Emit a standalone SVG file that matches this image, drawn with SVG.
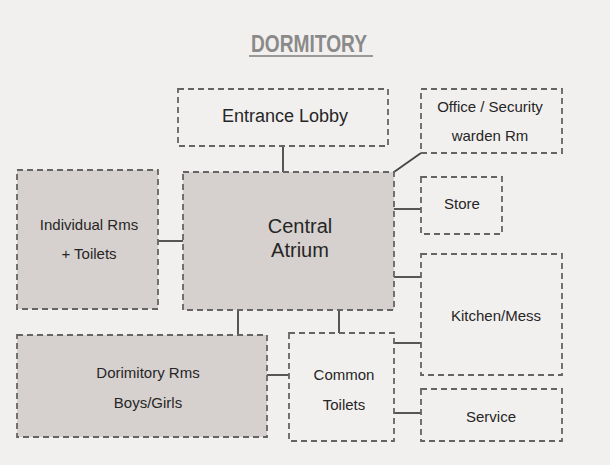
<svg xmlns="http://www.w3.org/2000/svg" width="610" height="465" viewBox="0 0 610 465">
<style>
.box{fill:none;stroke:#646464;stroke-width:1.8;stroke-dasharray:6 4}
.fill{fill:#d6d1ce}
.t{font-family:"Liberation Sans","DejaVu Sans",sans-serif;fill:#262626;text-anchor:middle}
.c{stroke:#444;stroke-width:1.8;fill:none}
</style>
<rect width="610" height="465" fill="#f2f0ef"/>
<g id="title">
<text x="309" y="52" class="t" style="font-weight:bold;font-size:24px;fill:#8a8a8a" textLength="116" lengthAdjust="spacingAndGlyphs">DORMITORY</text>
<line x1="249" y1="56" x2="373" y2="56" stroke="#9a9a9a" stroke-width="2"/>
</g>
<g id="connectors">
<line class="c" x1="283" y1="146" x2="283" y2="172"/>
<line class="c" x1="394" y1="172" x2="421" y2="153"/>
<line class="c" x1="394" y1="209" x2="421" y2="209"/>
<line class="c" x1="394" y1="277" x2="421" y2="277"/>
<line class="c" x1="158" y1="241" x2="183" y2="241"/>
<line class="c" x1="238" y1="310" x2="238" y2="335"/>
<line class="c" x1="339" y1="310" x2="339" y2="333"/>
<line class="c" x1="267" y1="375" x2="289" y2="375"/>
<line class="c" x1="394" y1="343" x2="421" y2="343"/>
<line class="c" x1="394" y1="413" x2="421" y2="413"/>
</g>
<g id="entrance">
<rect class="box" x="178" y="89" width="210" height="57"/>
<text class="t" x="285" y="122" font-size="18">Entrance Lobby</text>
</g>
<g id="office">
<rect class="box" x="421" y="89" width="141" height="64"/>
<text class="t" x="490" y="112" font-size="15">Office / Security</text>
<text class="t" x="490" y="141" font-size="15">warden Rm</text>
</g>
<g id="central">
<rect class="box fill" x="183" y="172" width="211" height="138"/>
<text class="t" x="300" y="233" font-size="20">Central</text>
<text class="t" x="300" y="257" font-size="20">Atrium</text>
</g>
<g id="store">
<rect class="box" x="421" y="177" width="81" height="57"/>
<text class="t" x="462" y="209" font-size="15">Store</text>
</g>
<g id="kitchen">
<rect class="box" x="421" y="254" width="141" height="121"/>
<text class="t" x="496" y="321" font-size="15">Kitchen/Mess</text>
</g>
<g id="individual">
<rect class="box fill" x="17" y="170" width="141" height="139"/>
<text class="t" x="89" y="230" font-size="15">Individual Rms</text>
<text class="t" x="89" y="259" font-size="15">+ Toilets</text>
</g>
<g id="dormitory">
<rect class="box fill" x="17" y="335" width="250" height="102"/>
<text class="t" x="148" y="378" font-size="15">Dorimitory Rms</text>
<text class="t" x="148" y="408" font-size="15">Boys/Girls</text>
</g>
<g id="toilets">
<rect class="box" x="289" y="333" width="105" height="108"/>
<text class="t" x="344" y="380" font-size="15">Common</text>
<text class="t" x="344" y="410" font-size="15">Toilets</text>
</g>
<g id="service">
<rect class="box" x="421" y="389" width="141" height="52"/>
<text class="t" x="491" y="422" font-size="15">Service</text>
</g>
</svg>
